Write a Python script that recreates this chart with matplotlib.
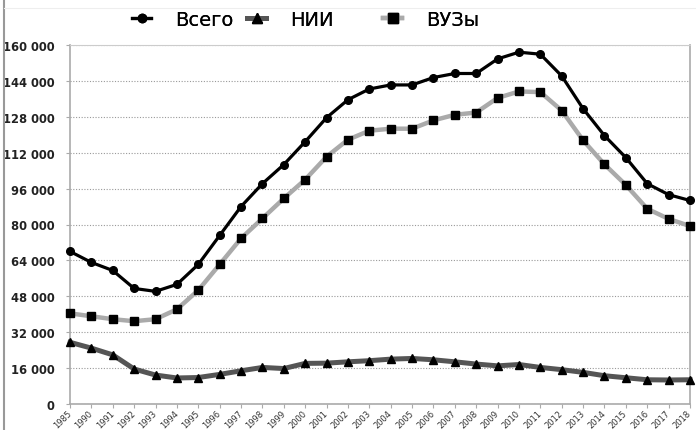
import numpy as np
import matplotlib.pyplot as plt
from matplotlib.ticker import FuncFormatter
from matplotlib.lines import Line2D

years = ['1985', '1990', '1991', '1992', '1993', '1994', '1995', '1996', '1997', '1998',
         '1999', '2000', '2001', '2002', '2003', '2004', '2005', '2006', '2007', '2008',
         '2009', '2010', '2011', '2012', '2013', '2014', '2015', '2016', '2017', '2018']

vsego = [68000, 63100, 59500, 51500, 50200, 53300, 62200, 75100, 88000, 98200,
         106700, 116900, 127600, 135600, 140400, 142200, 142200, 145500, 147300, 147300,
         153800, 156800, 155900, 146200, 131600, 119600, 109800, 98200, 93300, 90700]

nii = [27500, 24900, 21900, 15600, 12900, 11600, 11800, 13200, 14800, 16300,
       15800, 18100, 18200, 18800, 19300, 20000, 20300, 19700, 18800, 17800,
       17000, 17600, 16300, 15300, 14100, 12600, 11700, 10800, 10700, 10800]

vuzy = [40400, 39100, 37800, 36900, 37800, 42200, 50700, 62200, 73800, 82700,
        91600, 100000, 110200, 117800, 121800, 122700, 122700, 126400, 128900, 129900,
        136400, 139300, 139000, 130800, 117500, 106800, 97600, 87000, 82500, 79300]

x = np.arange(len(years))

fig = plt.figure(figsize=(6.96, 4.31), dpi=100)
ax = fig.add_axes([70/696, 1-405/431, 620/696, 359/431])

ax.plot(x, nii, color='#555555', lw=3.6, marker='^', ms=6, mfc='black', mec='black',
        clip_on=False, zorder=3, label='НИИ')
ax.plot(x, vuzy, color='#aaaaaa', lw=3.2, marker='s', ms=6, mfc='black', mec='black',
        clip_on=False, zorder=4, label='ВУЗы')
ax.plot(x, vsego, color='black', lw=2.3, marker='o', ms=5.5, mfc='black', mec='black',
        clip_on=False, zorder=5, label='Всего')

ax.set_xlim(0, len(years) - 1)
ax.set_ylim(0, 160000)
ax.set_yticks(np.arange(0, 160001, 16000))
ax.yaxis.set_major_formatter(FuncFormatter(lambda v, p: f'{int(v):,}'.replace(',', ' ')))
ax.set_xticks(x)
ax.set_xticklabels(years, rotation=45, ha='right', va='center', rotation_mode='anchor',
                   fontsize=6, color='#333333')
for t in ax.get_yticklabels():
    t.set_fontsize(8.3)
    t.set_fontweight('bold')
    t.set_color('#222222')

ax.grid(axis='y', color='#999999', linestyle=(0, (1, 1.5)), lw=0.8)
ax.set_axisbelow(True)
for s in ['left', 'bottom', 'right']:
    ax.spines[s].set_color('#aaaaaa')
    ax.spines[s].set_linewidth(1.2)
ax.spines['top'].set_color('#cccccc')
ax.tick_params(axis='both', length=3, color='#aaaaaa')
ax.tick_params(axis='x', pad=2)
ax.tick_params(axis='y', pad=8)

entries = [
    (Line2D([], [], color='black', lw=2.3, marker='o', ms=6, mfc='black'), 'Всего', 132),
    (Line2D([], [], color='#555555', lw=3.6, marker='^', ms=6.5, mfc='black', mec='black'), 'НИИ', 247),
    (Line2D([], [], color='#aaaaaa', lw=3.2, marker='s', ms=6.5, mfc='black', mec='black'), 'ВУЗы', 383),
]
for h, lab, px in entries:
    lg = fig.legend([h], [lab], loc='center left', bbox_to_anchor=(px/696, 1-20/431),
                    frameon=False, fontsize=14, handlelength=1.0, handletextpad=1.2,
                    borderpad=0, borderaxespad=0)
    fig.add_artist(lg)

fig.add_artist(Line2D([4/696, 4/696], [0, 1], color='#999999', lw=1.5))
fig.add_artist(Line2D([4/696, 1], [1-9/431, 1-9/431], color='#eeeeee', lw=0.8))

fig.savefig('out.png', dpi=100)
